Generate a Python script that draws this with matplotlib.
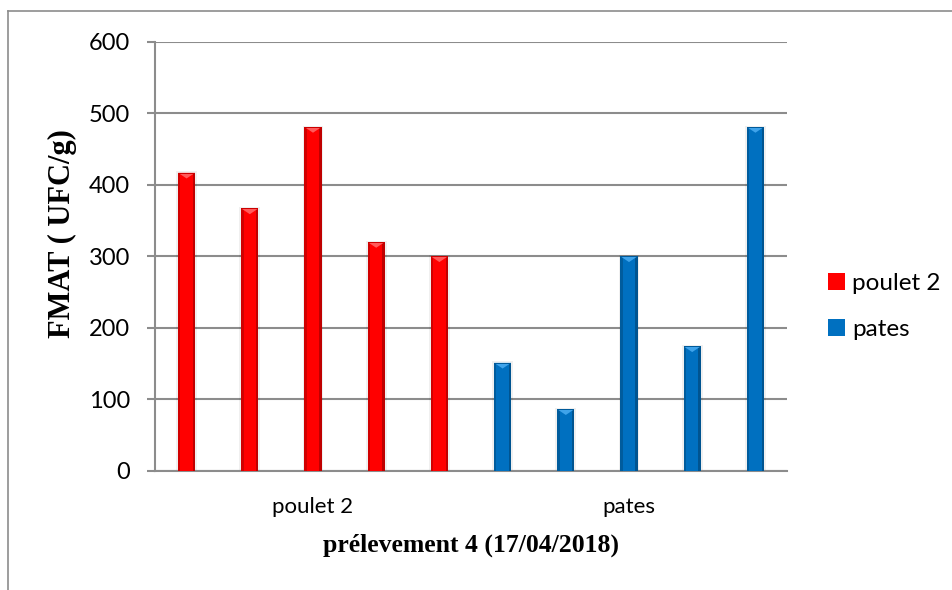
import numpy as np
import matplotlib
matplotlib.use("Agg")
import matplotlib.pyplot as plt
from matplotlib.patches import Polygon, Rectangle
from matplotlib.colors import to_rgb

# Data
categories = ["poulet 2", "pates"]
poulet_values = [417, 367, 481, 320, 300]
pates_values = [151, 86, 300, 174, 481]
y_ticks = [0, 100, 200, 300, 400, 500, 600]

red = "#FF0000"
blue = "#0070C0"

fig = plt.figure(figsize=(9.52, 5.9), dpi=100)
fig.patch.set_facecolor("white")

# Outer chart frame (left and top edges visible)
fig.add_artist(plt.Line2D([8 / 952, 8 / 952], [0, 1 - 11 / 590],
                          transform=fig.transFigure, color="#8c8c8c", lw=1.2))
fig.add_artist(plt.Line2D([8 / 952, 1], [1 - 11 / 590, 1 - 11 / 590],
                          transform=fig.transFigure, color="#8c8c8c", lw=1.2))

ax = fig.add_axes([155 / 952, 119.3 / 590, 632 / 952, 428.7 / 590])

n_p = len(poulet_values)
n_q = len(pates_values)
x_p = np.arange(n_p) + 0.5
x_q = np.arange(n_q) + 0.5 + n_p
width = 0.27


def shade(color, f):
    r, g, b = to_rgb(color)
    if f < 1:
        return (r * f, g * f, b * f)
    f = f - 1
    return (r + (1 - r) * f, g + (1 - g) * f, b + (1 - b) * f)


def bevel_bars(xs, vals, color, light, label):
    bars = ax.bar(xs, vals, width=width, color=color, zorder=3, label=label,
                  edgecolor="none")
    for x, v in zip(xs, vals):
        # soft shadow
        ax.add_patch(Rectangle((x - width / 2 - 0.03, 0), width + 0.06, v + 2,
                               facecolor="#000000", alpha=0.06, zorder=2.5,
                               edgecolor="none"))
        # darker side edges
        ew = width * 0.14
        ax.add_patch(Rectangle((x - width / 2, 0), ew, v,
                               facecolor=shade(color, 0.82), zorder=3.1, edgecolor="none"))
        ax.add_patch(Rectangle((x + width / 2 - ew, 0), ew, v,
                               facecolor=shade(color, 0.75), zorder=3.1, edgecolor="none"))
        # top bevel
        d = 8
        ax.add_patch(Polygon([(x - width / 2, v), (x + width / 2, v), (x, v - d)],
                             closed=True, facecolor=light, zorder=3.2, edgecolor="none"))
        ax.add_patch(Rectangle((x - width / 2, v - 1.2), width, 1.2,
                               facecolor=shade(color, 0.8), zorder=3.3, edgecolor="none"))
    return bars


bevel_bars(x_p, poulet_values, red, "#FF5A5A", categories[0])
bevel_bars(x_q, pates_values, blue, "#3FA3EA", categories[1])

ax.set_xlim(0, n_p + n_q)
ax.set_ylim(0, 600)
ax.set_yticks(y_ticks)
ax.yaxis.grid(True, color="#8c8c8c", lw=1.5, zorder=0)
ax.set_axisbelow(True)

ax.set_xticks([n_p / 2, n_p + n_q / 2])
ax.set_xticklabels(categories, fontfamily="Lato", fontsize=16)
ax.tick_params(axis="x", length=0, pad=19)
ax.tick_params(axis="y", length=6, width=1.5, color="#8c8c8c", labelsize=17, pad=12)
for lbl in ax.get_yticklabels():
    lbl.set_fontfamily("Lato")

for s in ["top", "right"]:
    ax.spines[s].set_visible(False)
for s in ["left", "bottom"]:
    ax.spines[s].set_color("#8c8c8c")
    ax.spines[s].set_linewidth(1.5)

ax.set_ylabel("FMAT ( UFC/g)", fontfamily="Liberation Serif", fontweight="bold",
              fontsize=22)
ax.yaxis.set_label_coords(-0.124, 0.552)
ax.set_xlabel("prélevement 4 (17/04/2018)", fontfamily="Liberation Serif",
              fontweight="bold", fontsize=18.5, labelpad=12)

leg = ax.legend(loc="center left", bbox_to_anchor=(1.03, 0.383), frameon=False,
                prop={"family": "Lato", "size": 17.5}, handlelength=0.7,
                handleheight=0.7, handletextpad=0.3, labelspacing=1.05)

fig.savefig("out.png", dpi=100, facecolor="white")
